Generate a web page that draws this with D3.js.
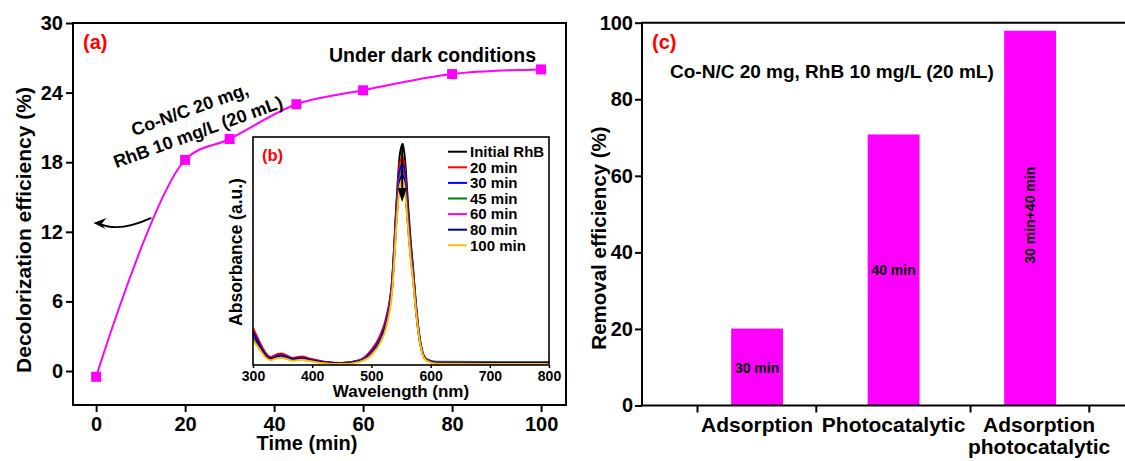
<!DOCTYPE html>
<html>
<head>
<meta charset="utf-8">
<script src="https://cdn.jsdelivr.net/npm/d3@7/dist/d3.min.js"></script>
<style>
  html, body { margin: 0; padding: 0; background: #fff; }
  svg { display: block; }
  text { font-family: "Liberation Sans", Arial, sans-serif; font-weight: bold; }
</style>
</head>
<body>
<script>
// ---------------- DATA ----------------
// Panel (a): decolorization efficiency vs time (dark conditions)
const times = [0, 20, 30, 45, 60, 80, 100];
const decolorization = [-0.5, 18.2, 20.0, 23.0, 24.2, 25.6, 26.0];
const timeTicks = [0, 20, 40, 60, 80, 100];
const decolorTicks = [0, 6, 12, 18, 24, 30];

// Panel (b): UV-vis spectra
const wavelengths = [300, 310, 320, 330, 340, 347, 357, 367, 375, 383, 395, 420, 450, 480, 500, 515, 525, 535, 543, 548, 553, 557, 561, 566, 570, 575, 580, 586, 593, 610, 700, 800];
const absInitial = [0.155, 0.10, 0.052, 0.030, 0.042, 0.046, 0.038, 0.028, 0.032, 0.034, 0.026, 0.014, 0.008, 0.020, 0.062, 0.125, 0.205, 0.38, 0.76, 0.95, 1.00, 0.92, 0.76, 0.57, 0.45, 0.28, 0.15, 0.060, 0.025, 0.012, 0.010, 0.010];
const abs20 = [0.167, 0.11, 0.060, 0.036, 0.048, 0.052, 0.043, 0.032, 0.036, 0.038, 0.029, 0.015, 0.009, 0.022, 0.068, 0.135, 0.215, 0.38, 0.74, 0.91, 0.94, 0.87, 0.72, 0.55, 0.44, 0.28, 0.15, 0.060, 0.026, 0.012, 0.010, 0.010];
const abs30 = [0.150, 0.098, 0.050, 0.030, 0.041, 0.045, 0.037, 0.027, 0.031, 0.033, 0.025, 0.013, 0.008, 0.020, 0.060, 0.122, 0.200, 0.37, 0.72, 0.88, 0.91, 0.85, 0.70, 0.54, 0.43, 0.27, 0.145, 0.058, 0.024, 0.012, 0.011, 0.011];
const abs45 = [0.125, 0.085, 0.045, 0.027, 0.036, 0.040, 0.033, 0.024, 0.028, 0.030, 0.023, 0.013, 0.009, 0.020, 0.055, 0.115, 0.190, 0.36, 0.70, 0.85, 0.88, 0.82, 0.68, 0.52, 0.42, 0.27, 0.145, 0.060, 0.027, 0.015, 0.014, 0.014];
const abs60 = [0.140, 0.092, 0.047, 0.028, 0.038, 0.042, 0.035, 0.025, 0.029, 0.031, 0.024, 0.012, 0.007, 0.019, 0.056, 0.116, 0.190, 0.355, 0.69, 0.84, 0.87, 0.81, 0.67, 0.51, 0.41, 0.26, 0.14, 0.056, 0.024, 0.011, 0.010, 0.010];
const abs80 = [0.145, 0.094, 0.048, 0.028, 0.038, 0.042, 0.035, 0.025, 0.029, 0.031, 0.024, 0.012, 0.007, 0.018, 0.054, 0.113, 0.186, 0.35, 0.68, 0.83, 0.86, 0.80, 0.66, 0.50, 0.40, 0.255, 0.138, 0.055, 0.023, 0.010, 0.009, 0.009];
const abs100 = [0.110, 0.075, 0.038, 0.022, 0.030, 0.033, 0.027, 0.019, 0.022, 0.024, 0.018, 0.008, 0.004, 0.014, 0.045, 0.100, 0.170, 0.33, 0.66, 0.81, 0.84, 0.78, 0.65, 0.49, 0.39, 0.25, 0.135, 0.052, 0.020, 0.006, 0.005, 0.005];
const spectraLabels = ["Initial RhB", "20 min", "30 min", "45 min", "60 min", "80 min", "100 min"];
const spectraColors = ["#000000", "#FF0000", "#0000FF", "#008000", "#FF00FF", "#000080", "#FFC000"];
const wavelengthTicks = [300, 400, 500, 600, 700, 800];

// Panel (c): removal efficiency
const methods = ["Adsorption", "Photocatalytic", "Adsorption photocatalytic"];
const removal = [20.1, 70.8, 97.9];
const durations = ["30 min", "40 min", "30 min+40 min"];
const removalTicks = [0, 20, 40, 60, 80, 100];
const methodSeparators = [0.56, 1.43, 2.56, 3.43];

// ---------------- SETUP ----------------
const W = 1125, H = 461;
const MAG = "#FF00FF", RED = "#FF0000";
const svg = d3.select("body").append("svg").attr("width", W).attr("height", H);

function styleAxis(g, size) {
  g.select(".domain").remove();
  g.selectAll(".tick line").attr("stroke", "#000").attr("stroke-width", 2);
  g.selectAll(".tick text").attr("fill", "#000").style("font-size", size + "px")
    .style("font-family", '"Liberation Sans", Arial, sans-serif').style("font-weight", "bold");
}

// ================= PANEL (a) =================
const xA = d3.scaleLinear().domain([-5.2, 105.6]).range([73, 566]);
const yA = d3.scaleLinear().domain([-2.93, 30]).range([405, 23]);
const gA = svg.append("g");

gA.append("g").attr("transform", "translate(73,0)")
  .call(d3.axisLeft(yA).tickValues(decolorTicks).tickSize(7).tickPadding(3).tickSizeOuter(0))
  .call(g => styleAxis(g, 20));
gA.append("g").attr("transform", "translate(0,405)")
  .call(d3.axisBottom(xA).tickValues(timeTicks).tickSize(7).tickPadding(5).tickSizeOuter(0))
  .call(g => styleAxis(g, 20));

gA.append("rect").attr("x", 73).attr("y", 23).attr("width", 566 - 73).attr("height", 405 - 23)
  .attr("fill", "none").attr("stroke", "#000").attr("stroke-width", 2);

const ptsA = times.map((t, i) => [t, decolorization[i]]);
gA.append("path").datum(ptsA)
  .attr("d", d3.line().x(d => xA(d[0])).y(d => yA(d[1])).curve(d3.curveCatmullRom.alpha(0.5)))
  .attr("fill", "none").attr("stroke", MAG).attr("stroke-width", 2);
gA.selectAll("rect.mk").data(ptsA).join("rect").attr("class", "mk")
  .attr("x", d => xA(d[0]) - 5).attr("y", d => yA(d[1]) - 5)
  .attr("width", 10).attr("height", 10).attr("fill", MAG);

gA.append("text").attr("x", 83).attr("y", 49).attr("fill", RED).style("font-size", "20px").text("(a)");
gA.append("text").attr("x", xA(75.6)).attr("y", 62).attr("text-anchor", "middle")
  .style("font-size", "19.5px").text("Under dark conditions");

const ann = gA.append("g").attr("transform", "translate(196,126.5) rotate(-20)");
ann.append("text").attr("x", 0).attr("y", -12).attr("text-anchor", "middle").style("font-size", "18px").text("Co-N/C 20 mg,");
ann.append("text").attr("x", 0).attr("y", 12).attr("text-anchor", "middle").style("font-size", "18px").text("RhB 10 mg/L (20 mL)");

// curved arrow pointing to the left axis
const aStart = [xA(12.4), yA(13.2)], aCtrl = [xA(5.0), yA(11.9)], aEnd = [xA(-0.6), yA(12.75)];
gA.append("path")
  .attr("d", `M${aStart[0]},${aStart[1]} Q${aCtrl[0]},${aCtrl[1]} ${aEnd[0] + 6},${aEnd[1] + 0.5}`)
  .attr("fill", "none").attr("stroke", "#000").attr("stroke-width", 1.8);
gA.append("path")
  .attr("d", `M${aEnd[0]},${aEnd[1]} L${aEnd[0] + 13},${aEnd[1] - 5} L${aEnd[0] + 8},${aEnd[1] + 1} L${aEnd[0] + 12},${aEnd[1] + 6} Z`)
  .attr("fill", "#000");

// ================= PANEL (b) inset =================
const xB = d3.scaleLinear().domain([300, 800]).range([253, 549]);
const yB = d3.scaleLinear().domain([0, 1.03]).range([365, 137]);
const gB = svg.append("g");
gB.append("rect").attr("x", 253).attr("y", 137).attr("width", 549 - 253).attr("height", 365 - 137)
  .attr("fill", "#fff").attr("stroke", "none");

const spectra = [absInitial, abs20, abs30, abs45, abs60, abs80, abs100];
const lineB = d3.line().x((d, i) => xB(wavelengths[i])).y(d => yB(d)).curve(d3.curveMonotoneX);
spectra.forEach((s, k) => {
  gB.append("path").datum(s).attr("d", lineB).attr("fill", "none")
    .attr("stroke", spectraColors[k]).attr("stroke-width", 2);
});

gB.append("rect").attr("x", 253).attr("y", 137).attr("width", 549 - 253).attr("height", 365 - 137)
  .attr("fill", "none").attr("stroke", "#000").attr("stroke-width", 1.6);
gB.append("g").attr("transform", "translate(0,365)")
  .call(d3.axisBottom(xB).tickValues(wavelengthTicks).tickSize(3).tickPadding(3).tickSizeOuter(0))
  .call(g => { styleAxis(g, 14); g.selectAll(".tick line").attr("stroke-width", 1.5); });

// down arrow at peak
const arX = xB(552);
gB.append("line").attr("x1", arX).attr("x2", arX).attr("y1", yB(0.99)).attr("y2", yB(0.78))
  .attr("stroke", "#000").attr("stroke-width", 2);
gB.append("path")
  .attr("d", `M${arX - 4.5},${yB(0.80)} L${arX + 4.5},${yB(0.80)} L${arX},${yB(0.735)} Z`).attr("fill", "#000");

gB.append("text").attr("x", 262).attr("y", 161).attr("fill", RED).style("font-size", "16.5px").text("(b)");
gB.append("text").attr("x", xB(550)).attr("y", 397).attr("text-anchor", "middle").style("font-size", "17px").text("Wavelength (nm)");
gB.append("text").attr("transform", `translate(242,252) rotate(-90)`).attr("text-anchor", "middle")
  .style("font-size", "17.5px").text("Absorbance (a.u.)");

const leg = gB.append("g");
spectraLabels.forEach((lab, k) => {
  const y = 151.7 + k * 15.6;
  leg.append("line").attr("x1", 448).attr("x2", 467).attr("y1", y).attr("y2", y)
    .attr("stroke", spectraColors[k]).attr("stroke-width", 2);
  leg.append("text").attr("x", 470).attr("y", y + 5.3).style("font-size", "15px").text(lab);
});

// ================= PANEL (c) =================
const xC = d3.scaleLinear().domain([0.157, 3.72]).range([642, 1128.4]);
const yC = d3.scaleLinear().domain([0, 100]).range([405.5, 22.7]);
const gC = svg.append("g");
const barW = xC(1.38) - xC(1);

gC.selectAll("rect.bar").data(removal).join("rect").attr("class", "bar")
  .attr("x", (d, i) => xC(i + 1) - barW / 2).attr("y", d => yC(d))
  .attr("width", barW).attr("height", d => yC(0) - yC(d)).attr("fill", MAG);

gC.append("g").attr("transform", "translate(642,0)")
  .call(d3.axisLeft(yC).tickValues(removalTicks).tickSize(7).tickPadding(2).tickSizeOuter(0))
  .call(g => styleAxis(g, 20));
gC.append("g").attr("transform", "translate(0,405.5)")
  .call(d3.axisBottom(xC).tickValues(methodSeparators).tickSize(7).tickFormat(""))
  .call(g => styleAxis(g, 20));

gC.append("path").attr("d", `M1130,22.7 H642 V405.5 H1130`).attr("fill", "none")
  .attr("stroke", "#000").attr("stroke-width", 2);

// category labels
const catLabels = [["Adsorption"], ["Photocatalytic"], ["Adsorption", "photocatalytic"]];
catLabels.forEach((lines, i) => {
  const cx = xC(i + 1) + (i === 2 ? 9 : 0);
  lines.forEach((l, j) => {
    gC.append("text").attr("x", cx).attr("y", 432 + j * 22).attr("text-anchor", "middle")
      .style("font-size", "21px").text(l);
  });
});

// duration labels inside bars
gC.append("text").attr("x", xC(1)).attr("y", yC(8.6)).attr("text-anchor", "middle").style("font-size", "14px").text(durations[0]);
gC.append("text").attr("x", xC(2)).attr("y", yC(34)).attr("text-anchor", "middle").style("font-size", "14px").text(durations[1]);
gC.append("text").attr("transform", `translate(${xC(3) + 5},${yC(49.7)}) rotate(-90)`).attr("text-anchor", "middle")
  .style("font-size", "14px").text(durations[2]);

gC.append("text").attr("x", 652).attr("y", 49).attr("fill", RED).style("font-size", "20px").text("(c)");
gC.append("text").attr("x", 670).attr("y", 78).style("font-size", "19px").text("Co-N/C 20 mg, RhB 10 mg/L (20 mL)");
gC.append("text").attr("transform", "translate(606,238) rotate(-90)").attr("text-anchor", "middle")
  .style("font-size", "20.5px").text("Removal efficiency (%)");

// y title for (a)
gA.append("text").attr("transform", "translate(31,230) rotate(-90)").attr("text-anchor", "middle")
  .style("font-size", "21px").text("Decolorization efficiency (%)");
gA.append("text").attr("x", 307).attr("y", 450).attr("text-anchor", "middle").style("font-size", "20px").text("Time (min)");
</script>
</body>
</html>
